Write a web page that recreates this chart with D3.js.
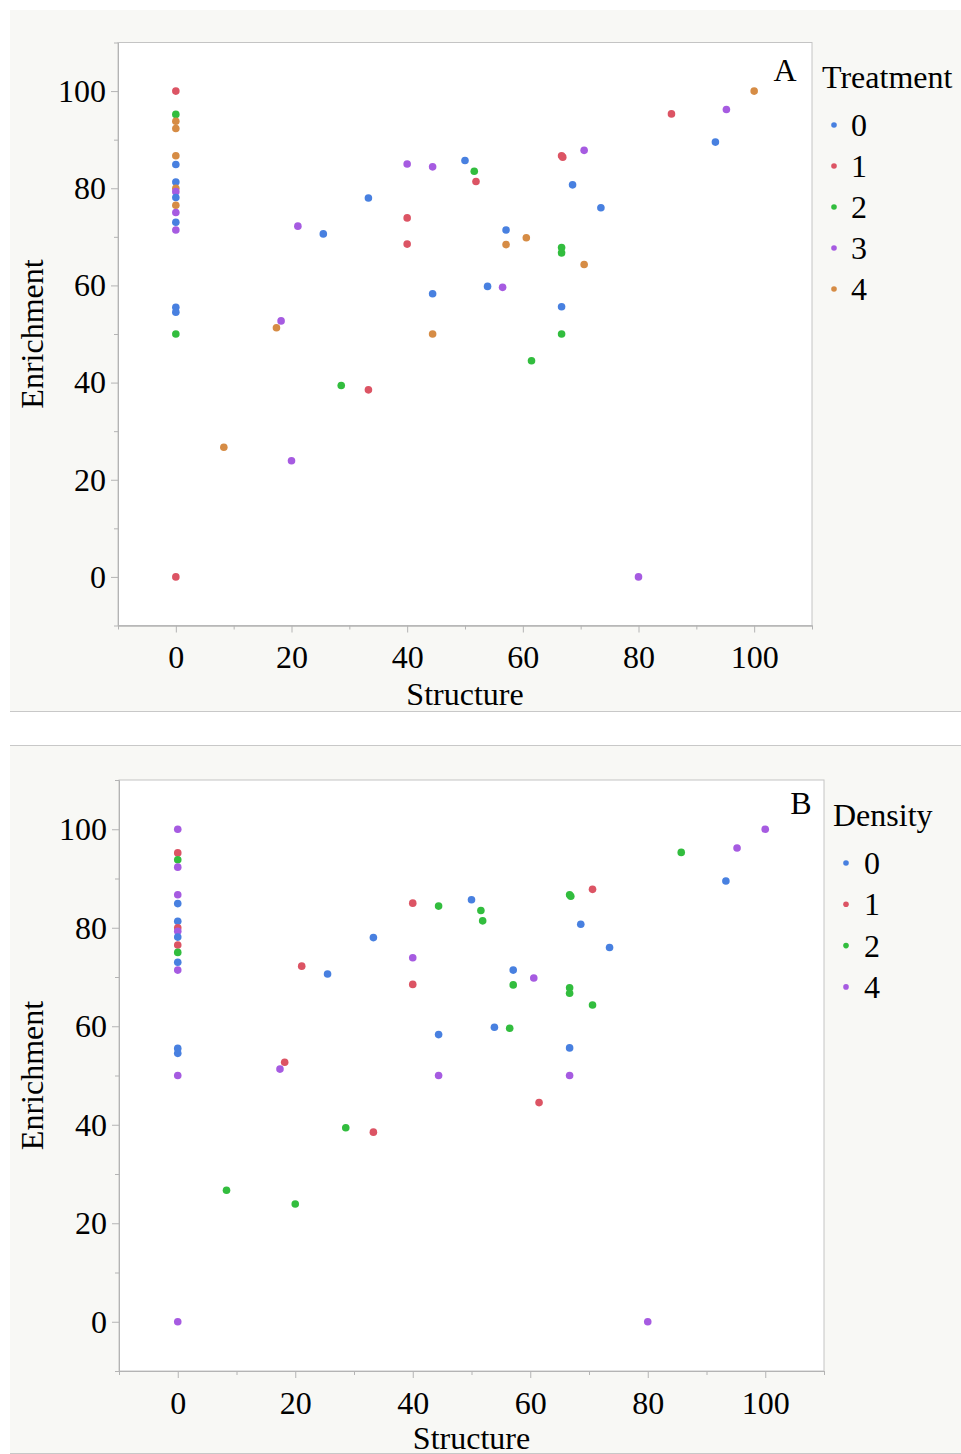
<!DOCTYPE html>
<html>
<head>
<meta charset="utf-8">
<script src="https://cdnjs.cloudflare.com/ajax/libs/d3/7.8.5/d3.min.js"></script>
<style>
  body { margin: 0; background: #fff; }
  svg text { font-family: "Liberation Serif", "DejaVu Serif", serif; fill: #000; }
</style>
</head>
<body>
<div id="chart"></div>
<script>
// one row per observation, same points in both panels
var structure = [0, 0, 0, 0, 0, 0, 0, 0, 0, 0, 0, 0, 0, 0, 0, 0, 0, 0,
    40.0, 44.4, 50.0, 51.6, 51.9, 66.7, 66.9, 70.6, 68.6, 73.5, 33.3, 40.0,
    40.0, 21.1, 25.5, 57.1, 60.6, 57.1, 66.7, 66.7, 70.6, 53.9, 56.5, 44.4,
    66.7, 18.2, 17.4, 44.4, 66.7, 61.5, 100, 95.2, 85.7, 93.3, 28.6, 33.3,
    8.3, 20.0, 80.0];
var enrichment = [100, 95.2, 93.8, 92.3, 86.7, 84.9, 81.3, 80.0, 79.3, 78.1, 76.5, 75.0, 73.0, 71.4, 55.5, 54.5, 50.0, 0,
    85.0, 84.4, 85.7, 83.5, 81.4, 86.7, 86.4, 87.8, 80.7, 76.0, 78.0, 73.9,
    68.5, 72.2, 70.6, 71.4, 69.8, 68.4, 67.8, 66.7, 64.3, 59.8, 59.6, 58.3,
    55.6, 52.7, 51.3, 50.0, 50.0, 44.5, 100, 96.2, 95.3, 89.5, 39.4, 38.5,
    26.7, 23.9, 0];
var treatment = [1, 2, 4, 4, 4, 0, 0, 4, 3, 0, 4, 3, 0, 3, 0, 0, 2, 1,
    3, 3, 0, 2, 1, 1, 1, 3, 0, 0, 0, 1,
    1, 3, 0, 0, 4, 4, 2, 2, 4, 0, 3, 0,
    0, 3, 4, 4, 2, 2, 4, 3, 1, 0, 2, 1,
    4, 3, 3];
var density = [4, 1, 2, 4, 4, 0, 0, 1, 4, 0, 1, 2, 0, 4, 0, 0, 4, 4,
    1, 2, 0, 2, 2, 2, 2, 1, 0, 0, 0, 4,
    1, 1, 0, 0, 4, 2, 2, 2, 2, 0, 2, 0,
    0, 1, 4, 4, 4, 1, 4, 4, 2, 0, 2, 1,
    2, 2, 4];

var treatmentLevels = [0, 1, 2, 3, 4];
var densityLevels = [0, 1, 2, 4];
var majorTicks = [0, 20, 40, 60, 80, 100];
var minorTicks = [-10, 10, 30, 50, 70, 90, 110];
var palette = ["#4880e0", "#dc5464", "#32bd3e", "#a65be1", "#d68c45"];

var svg = d3.select("#chart").append("svg")
    .attr("width", 961)
    .attr("height", 1454);

var panels = [
    { letter: "A", title: "Treatment", groups: treatment, levels: treatmentLevels,
      bgTop: 10, bgBottom: 712,
      left: 118, right: 812, top: 42.5, bottom: 625.5,
      letterX: 785, letterY: 81, legX: 822, legY: 88, dotX: 834, itemX: 851, itemY: 125, itemStep: 41,
      xLabelY: 705 },
    { letter: "B", title: "Density", groups: density, levels: densityLevels,
      bgTop: 745, bgBottom: 1454,
      left: 119, right: 824, top: 780, bottom: 1371,
      letterX: 801, letterY: 814, legX: 833, legY: 826, dotX: 846, itemX: 864, itemY: 863, itemStep: 41.3,
      xLabelY: 1449 }
];

function drawPanel(p) {
    var g = svg.append("g");

    g.append("rect")
        .attr("x", 10).attr("y", p.bgTop)
        .attr("width", 951).attr("height", p.bgBottom - p.bgTop)
        .attr("fill", "#f8f8f5");
    g.append("line")
        .attr("x1", 10).attr("x2", 961)
        .attr("y1", p.bgBottom - 0.5).attr("y2", p.bgBottom - 0.5)
        .attr("stroke", "#c8c8c8");
    if (p.bgTop > 10) {
        g.append("line")
            .attr("x1", 10).attr("x2", 961)
            .attr("y1", p.bgTop + 0.5).attr("y2", p.bgTop + 0.5)
            .attr("stroke", "#c8c8c8");
    }

    var x = d3.scaleLinear().domain([-10, 110]).range([p.left, p.right]);
    var y = d3.scaleLinear().domain([-10, 110]).range([p.bottom, p.top]);
    var color = d3.scaleOrdinal(p.levels, palette);

    g.append("rect")
        .attr("x", p.left).attr("y", p.top)
        .attr("width", p.right - p.left).attr("height", p.bottom - p.top)
        .attr("fill", "#fff")
        .attr("stroke", "#c4c4c4");

    // axes: major ticks with labels, minor ticks without
    var xAxis = g.append("g").attr("transform", "translate(0," + p.bottom + ")");
    xAxis.append("g").call(d3.axisBottom(x).tickValues(majorTicks).tickSize(7).tickPadding(13).tickSizeOuter(0));
    xAxis.append("g").call(d3.axisBottom(x).tickValues(minorTicks).tickSize(4).tickFormat("").tickSizeOuter(0));

    var yAxis = g.append("g").attr("transform", "translate(" + p.left + ",0)");
    yAxis.append("g").call(d3.axisLeft(y).tickValues(majorTicks).tickSize(7).tickPadding(5).tickSizeOuter(0));
    yAxis.append("g").call(d3.axisLeft(y).tickValues(minorTicks).tickSize(4).tickFormat("").tickSizeOuter(0));

    g.selectAll(".domain").attr("stroke", "#b4b4b4");
    g.selectAll(".tick line").attr("stroke", "#b4b4b4");
    g.selectAll(".tick text").style("font-size", "32px").attr("fill", "#000");

    g.append("text")
        .attr("x", (p.left + p.right) / 2).attr("y", p.xLabelY)
        .attr("text-anchor", "middle")
        .style("font-size", "32px")
        .text("Structure");
    g.append("text")
        .attr("transform", "translate(43," + (p.top + p.bottom) / 2 + ") rotate(-90)")
        .attr("text-anchor", "middle")
        .style("font-size", "32px")
        .text("Enrichment");

    g.append("g").selectAll("circle")
        .data(d3.range(structure.length))
        .enter()
        .append("circle")
        .attr("cx", function(i) { return x(structure[i]); })
        .attr("cy", function(i) { return y(enrichment[i]); })
        .attr("r", 3.8)
        .attr("fill", function(i) { return color(p.groups[i]); });

    g.append("text")
        .attr("x", p.letterX).attr("y", p.letterY)
        .attr("text-anchor", "middle")
        .style("font-size", "32px")
        .text(p.letter);

    var legend = g.append("g");
    legend.append("text")
        .attr("x", p.legX).attr("y", p.legY)
        .style("font-size", "32px")
        .text(p.title);
    var item = legend.selectAll(".item")
        .data(p.levels)
        .enter()
        .append("g")
        .attr("class", "item")
        .attr("transform", function(d, i) { return "translate(0," + (p.itemY + i * p.itemStep) + ")"; });
    item.append("circle")
        .attr("cx", p.dotX).attr("cy", 0)
        .attr("r", 2.8)
        .attr("fill", function(d) { return color(d); });
    item.append("text")
        .attr("x", p.itemX).attr("y", 11)
        .style("font-size", "32px")
        .text(function(d) { return d; });
}

panels.forEach(drawPanel);
</script>
</body>
</html>
